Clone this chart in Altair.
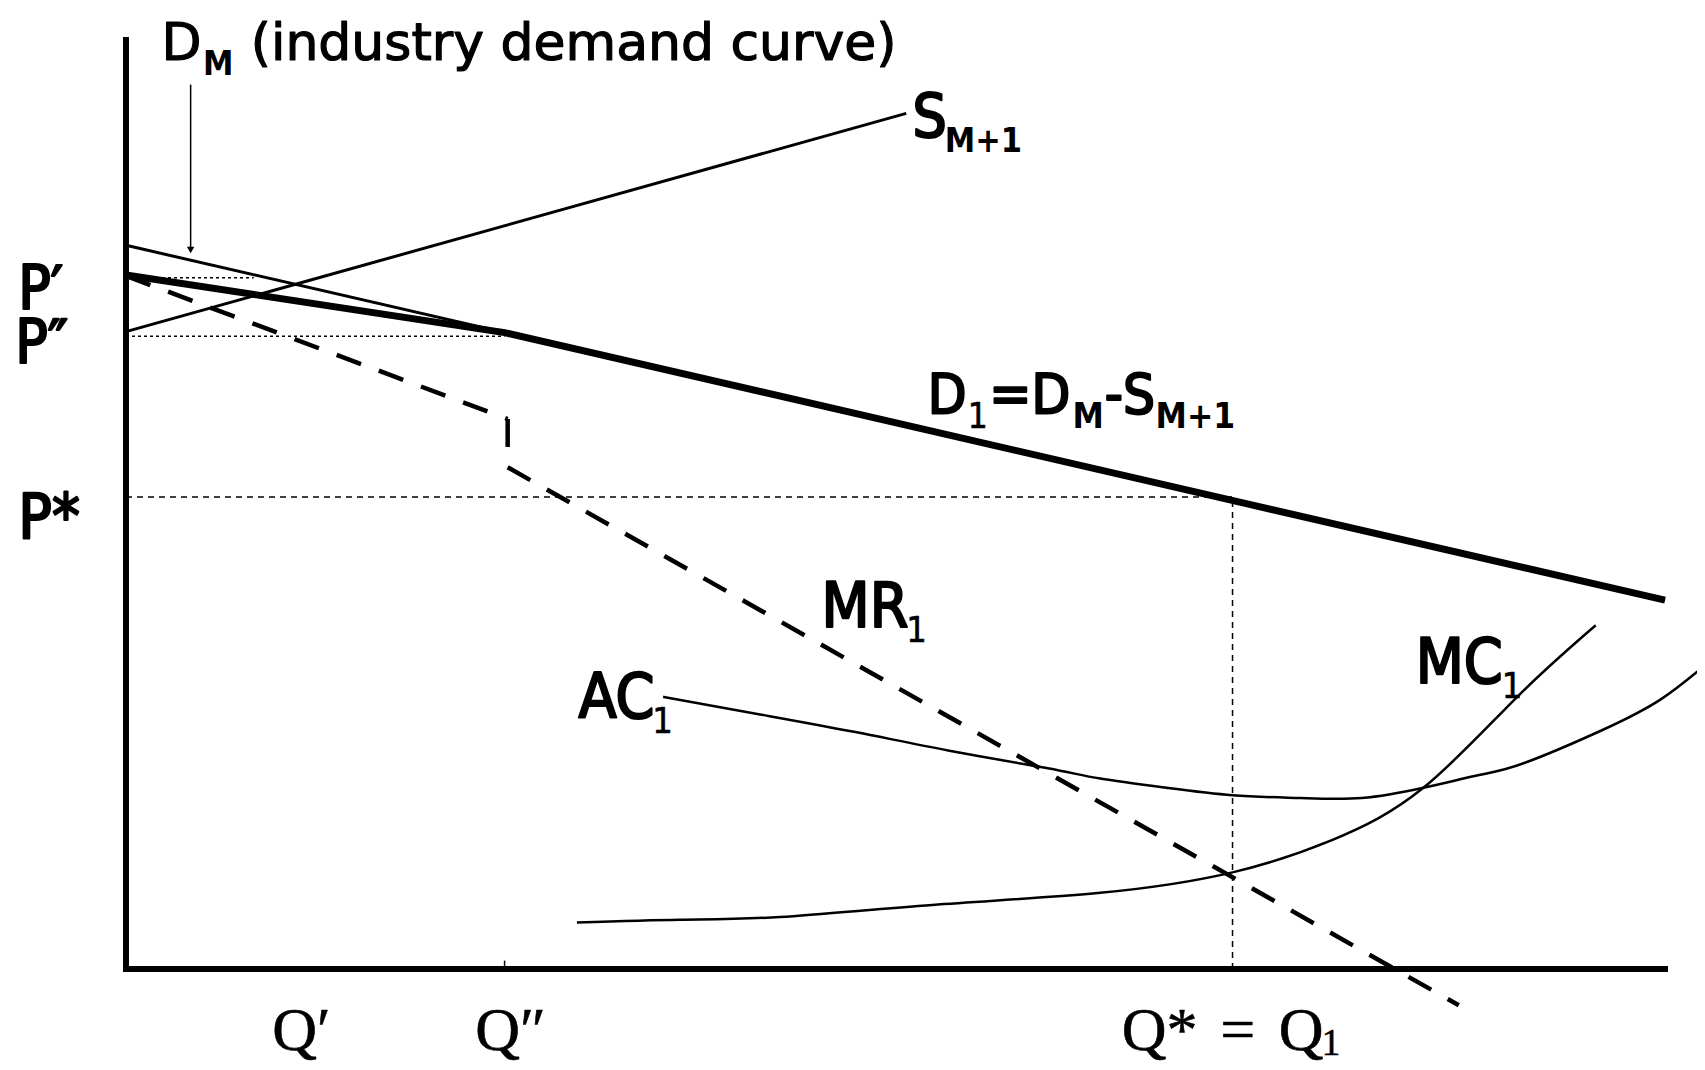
import altair as alt
import pandas as pd

# Diagram units: origin at the corner of the axes, both axes end at 100.
# ---- curves ----
dm_q = [0.0, 100.0]
dm_p = [77.9, 39.7]

d1_q = [0.0, 24.6, 100.0]
d1_p = [74.7, 68.5, 39.7]

s_q = [0.0, 50.7]
s_p = [68.6, 92.1]

mr_part = ["upper", "upper", "jump", "jump", "lower", "lower"]
mr_q = [0.0, 24.8, 24.8, 24.8, 24.8, 86.6]
mr_p = [74.6, 59.2, 59.2, 56.2, 54.0, -3.9]

ac_q = [34.9, 41.2, 47.4, 53.5, 59.9, 63.3, 67.6, 71.9, 76.3, 80.3, 84.3, 88.0, 90.9, 95.9, 99.7, 102.6]
ac_p = [29.3, 27.4, 25.5, 23.5, 21.6, 20.5, 19.5, 18.7, 18.4, 18.4, 19.5, 20.9, 22.2, 25.7, 29.0, 32.7]

mc_q = [29.3, 36.0, 42.5, 52.4, 63.3, 71.9, 78.4, 84.3, 90.4, 95.5]
mc_p = [5.0, 5.3, 5.6, 6.9, 8.2, 10.4, 13.9, 19.5, 29.3, 37.0]

# ---- reference levels ----
p_prime, p_dprime, p_star = 74.4, 68.1, 50.8
q_dprime, q_star = 24.6, 71.9
p_prime_end = 8.3          # dotted P' guide ends where it meets D_M
arrow_q, arrow_top, arrow_tip = 4.2, 95.2, 77.4

# ---- labels ----
title_text = ["D", "(industry demand curve)"]
title_q = [2.3, 8.1]
title_p = [97.8, 97.8]
title_size = [52, 52]

sans_text = ["P\u2032", "P\u2033", "P*", "S", "D", "=D", "-S", "MR", "AC", "MC"]
sans_q = [-7.0, -7.2, -7.0, 51.1, 52.1, 56.1, 63.6, 45.2, 29.4, 83.8]
sans_p = [71.0, 65.2, 46.4, 89.6, 59.8, 59.8, 59.8, 36.8, 27.0, 30.8]
sans_size = [60, 60, 62, 60, 56, 56, 56, 62, 62, 62]

sub_text = ["1", "1", "1", "1"]
sub_q = [54.7, 50.7, 34.2, 89.4]
sub_p = [58.2, 35.2, 25.4, 29.2]
sub_size = [35, 36, 36, 36]

bold_text = ["M", "M+1", "M", "M+1"]
bold_q = [5.0, 53.2, 61.5, 66.9]
bold_p = [96.2, 87.9, 58.2, 58.2]
bold_size = [34, 34, 35, 35]

serif_text = ["Q\u2032", "Q\u2033", "Q*", "=", "Q", "1"]
serif_q = [9.5, 22.7, 64.7, 71.1, 74.9, 77.7]
serif_p = [-8.7, -8.7, -8.7, -8.7, -8.7, -9.3]
serif_size = [62, 62, 62, 62, 62, 37]

SANS = "DejaVu Sans Condensed, DejaVu Sans, sans-serif"
WIDE = "DejaVu Sans, Verdana, sans-serif"
SERIF = "Liberation Serif, DejaVu Serif, serif"

xs = alt.Scale(domain=[-7.667, 102.08], nice=False, zero=False)
ys = alt.Scale(domain=[-10.01, 103.44], nice=False, zero=False)
X = lambda f="q": alt.X(f"{f}:Q", scale=xs, axis=None)
Y = lambda f="p": alt.Y(f"{f}:Q", scale=ys, axis=None)


def line(qs, ps, width, **kw):
    df = pd.DataFrame({"q": qs, "p": ps, "o": range(len(qs))})
    return alt.Chart(df).mark_line(color="black", strokeWidth=width, **kw).encode(
        x=X(), y=Y(), order="o:Q")


def rules(q1, p1, q2, p2, width, dash=None, cap="butt"):
    df = pd.DataFrame({"q": q1, "p": p1, "q2": q2, "p2": p2})
    kw = dict(color="black", strokeWidth=width, strokeCap=cap)
    if dash:
        kw["strokeDash"] = dash
    return alt.Chart(df).mark_rule(**kw).encode(
        x=X(), y=Y(), x2="q2:Q", y2="p2:Q")


def texts(t, qs, ps, sizes, font, weight="normal", stroke=0.0):
    df = pd.DataFrame({"t": t, "q": qs, "p": ps, "s": sizes})
    kw = dict(align="left", baseline="alphabetic", font=font, fontWeight=weight, color="black")
    if stroke > 0:
        kw.update(stroke="black", strokeWidth=stroke, strokeJoin="round")
    return alt.Chart(df).mark_text(**kw).encode(
        x=X(), y=Y(), text="t:N", size=alt.Size("s:Q", scale=None, legend=None))


axes = rules([0, 0], [0, 0], [100, 0], [0, 100], 6, cap="square")

guides = alt.layer(
    rules([0], [p_prime], [p_prime_end], [p_prime], 1.5, [3, 3]),
    rules([0], [p_dprime], [q_dprime], [p_dprime], 1.5, [3, 3]),
    rules([0], [p_star], [q_star], [p_star], 1.5, [6, 5]),
    rules([q_star], [0], [q_star], [p_star], 1.5, [6, 5]),
    rules([q_dprime], [0], [q_dprime], [0.9], 1.5),
)

arrow = alt.layer(
    rules([arrow_q], [arrow_top], [arrow_q], [arrow_tip], 1.5),
    alt.Chart(pd.DataFrame({"q": [arrow_q], "p": [arrow_tip]})).mark_point(
        shape="triangle-down", filled=True, color="black", size=55, opacity=1
    ).encode(x=X(), y=Y()),
)

mr_df = pd.DataFrame({"q": mr_q, "p": mr_p, "part": mr_part, "o": range(len(mr_q))})
mr = alt.Chart(mr_df).mark_line(color="black", strokeWidth=4.5).encode(
    x=X(), y=Y(), order="o:Q", detail="part:N",
    strokeDash=alt.StrokeDash("part:N", scale=alt.Scale(
        domain=["upper", "jump", "lower"], range=[[26, 19], [1, 0], [26, 19]]), legend=None),
)

chart = alt.layer(
    guides,
    line(dm_q, dm_p, 3),
    line(s_q, s_p, 3),
    line(d1_q, d1_p, 7),
    mr,
    line(ac_q, ac_p, 2.5, interpolate="natural", clip=True),
    line(mc_q, mc_p, 2.5, interpolate="natural", clip=True),
    arrow,
    axes,
    texts(title_text, title_q, title_p, title_size, WIDE, stroke=1.2),
    texts(sans_text, sans_q, sans_p, sans_size, SANS, stroke=2.2),
    texts(sub_text, sub_q, sub_p, sub_size, SANS, stroke=0.6),
    texts(bold_text, bold_q, bold_p, bold_size, SANS, "bold"),
    texts(serif_text, serif_q, serif_p, serif_size, SERIF, stroke=0.6),
).properties(
    width=1689, height=1054, autosize=alt.AutoSizeParams(type="none"), padding=0,
    background="white",
).configure_view(stroke=None)

chart.save("out.html", embed_options={"renderer": "svg", "actions": False})
